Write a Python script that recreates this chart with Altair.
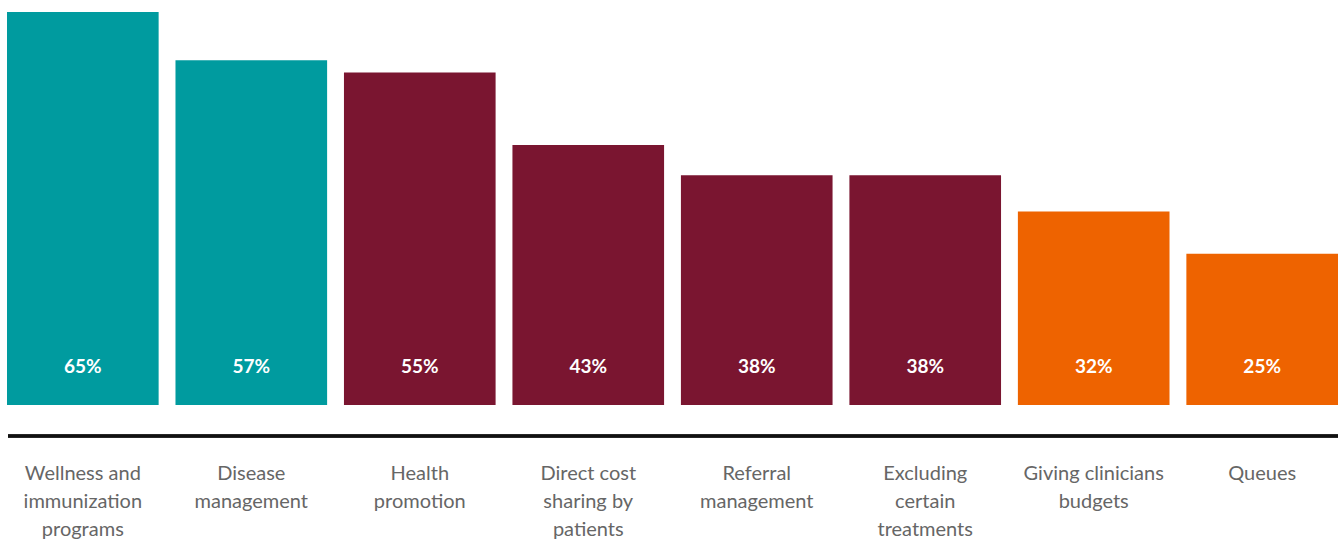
import altair as alt
import pandas as pd

categories = [
    "Wellness and\nimmunization\nprograms",
    "Disease\nmanagement",
    "Health\npromotion",
    "Direct cost\nsharing by\npatients",
    "Referral\nmanagement",
    "Excluding\ncertain\ntreatments",
    "Giving clinicians\nbudgets",
    "Queues",
]
values = [65, 57, 55, 43, 38, 38, 32, 25]
groups = ["A", "A", "B", "B", "B", "B", "C", "C"]
group_colors = {"A": "#009B9F", "B": "#7A1530", "C": "#EE6300"}

df = pd.DataFrame({
    "cat": categories,
    "value": values,
    "group": groups,
    "label": [f"{v}%" for v in values],
})

order = categories
x = alt.X("cat:N", sort=order, axis=None,
          scale=alt.Scale(paddingInner=0.1, paddingOuter=0))

bars = alt.Chart(df).mark_bar().encode(
    x=x,
    y=alt.Y("value:Q", axis=None, scale=alt.Scale(domain=[0, 65], nice=False, zero=True)),
    color=alt.Color("group:N", legend=None,
                    scale=alt.Scale(domain=list(group_colors.keys()),
                                    range=list(group_colors.values()))),
)

vals = alt.Chart(df).mark_text(
    color="white", fontSize=19, fontWeight="bold", font="Lato", baseline="alphabetic"
).encode(x=x, y=alt.value(361), text="label:N")

line = alt.Chart(df).mark_rule(color="#111111", strokeWidth=2.5).encode(
    x=alt.value(1), x2=alt.value(1331), y=alt.value(424)
)

labels = alt.Chart(df).mark_text(
    color="#666666", fontSize=20, font="Lato", baseline="alphabetic",
    lineBreak="\n", lineHeight=28
).encode(x=x, y=alt.value(468), text="cat:N")

chart = alt.layer(bars, vals, line, labels).properties(
    width=1331, height=393,
    padding={"left": 7, "top": 12, "right": 2, "bottom": 134},
    autosize=alt.AutoSizeParams(type="none"),
    background="white",
).configure_view(stroke=None, strokeWidth=0)

chart.save("out.html", embed_options={"renderer": "svg", "actions": False})
